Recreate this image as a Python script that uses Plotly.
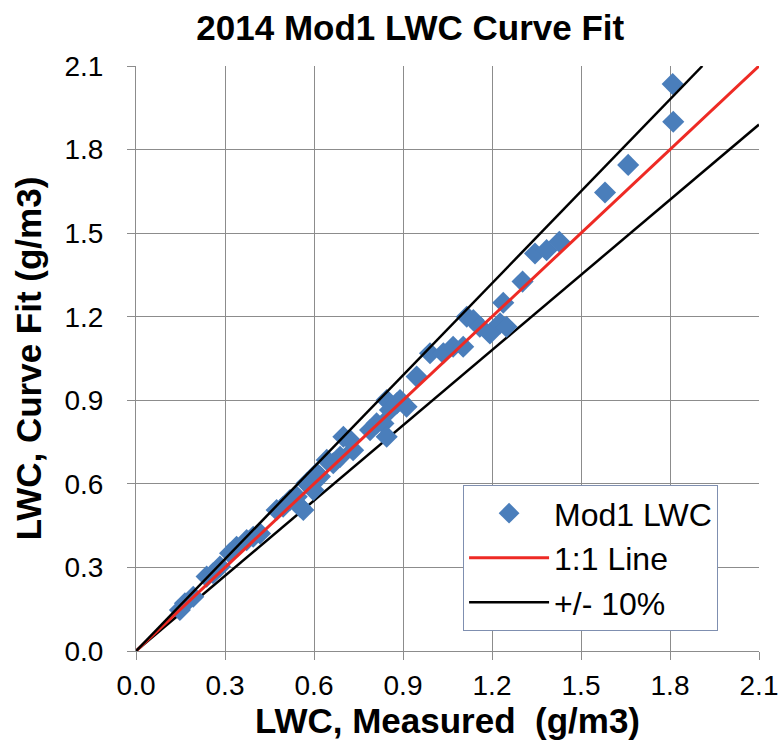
import plotly.graph_objects as go

measured = [0.148, 0.165, 0.193, 0.238, 0.260, 0.283, 0.317, 0.339, 0.373, 0.395, 0.418,
            0.474, 0.496, 0.519, 0.542, 0.553, 0.564, 0.575, 0.598, 0.609, 0.620, 0.643,
            0.665, 0.688, 0.699, 0.721, 0.732, 0.789, 0.811, 0.834, 0.845, 0.845, 0.856,
            0.879, 0.890, 0.912, 0.946, 0.991, 1.036, 1.069, 1.103, 1.115, 1.137, 1.159,
            1.193, 1.227, 1.238, 1.249, 1.303, 1.345, 1.384, 1.427, 1.581, 1.659, 1.811, 1.809]
curve_fit = [0.147, 0.171, 0.195, 0.267, 0.279, 0.303, 0.351, 0.374, 0.398, 0.410, 0.422,
             0.506, 0.518, 0.542, 0.554, 0.518, 0.506, 0.602, 0.578, 0.638, 0.626, 0.686,
             0.674, 0.697, 0.769, 0.757, 0.721, 0.793, 0.817, 0.817, 0.769, 0.901, 0.865,
             0.889, 0.901, 0.877, 0.985, 1.069, 1.069, 1.092, 1.092, 1.200, 1.188, 1.164,
             1.140, 1.176, 1.250, 1.164, 1.326, 1.427, 1.439, 1.469, 1.646, 1.745, 1.900, 2.035]

line_x = [0.0, 2.1]
one_to_one = [0.0, 2.1]
plus10_x = [0.0, 2.1 / 1.1]
plus10_y = [0.0, 2.1]
minus10_x = [0.0, 2.1]
minus10_y = [0.0, 2.1 * 0.9]

ticks = [0.0, 0.3, 0.6, 0.9, 1.2, 1.5, 1.8, 2.1]
tick_text = ["0.0", "0.3", "0.6", "0.9", "1.2", "1.5", "1.8", "2.1"]

FONT = "Arial, Liberation Sans, sans-serif"

fig = go.Figure()
fig.add_trace(go.Scatter(x=minus10_x, y=minus10_y, mode="lines",
                         line=dict(color="black", width=2.5), showlegend=False))
fig.add_trace(go.Scatter(x=measured, y=curve_fit, mode="markers", name="Mod1 LWC",
                         marker=dict(symbol="diamond", size=17, color="#4a7ebb",
                                     line=dict(width=0))))
fig.add_trace(go.Scatter(x=line_x, y=one_to_one, mode="lines", name="1:1 Line",
                         line=dict(color="#ee2a24", width=3)))
fig.add_trace(go.Scatter(x=plus10_x, y=plus10_y, mode="lines", name="+/- 10%",
                         line=dict(color="black", width=2.5)))

axis_common = dict(
    range=[0, 2.1], tickvals=ticks, ticktext=tick_text,
    showgrid=True, gridcolor="#8c8c8c", gridwidth=1,
    showline=True, linecolor="#8c8c8c", linewidth=1,
    ticks="outside", ticklen=8, tickcolor="#8c8c8c",
    zeroline=False, automargin=False,
    tickfont=dict(family=FONT, size=28, color="black"),
)

fig.update_layout(
    width=780, height=747,
    margin=dict(l=136, r=21, t=66, b=96),
    paper_bgcolor="white", plot_bgcolor="white",
    title=dict(text="<b>2014 Mod1 LWC Curve Fit</b>", x=0.526, xanchor="center",
               y=0.963, yanchor="middle",
               font=dict(family=FONT, size=35, color="black")),
    xaxis=dict(axis_common, ticklabelstandoff=1,
               title=dict(text="<b>LWC, Measured  (g/m3)</b>", standoff=6,
                          font=dict(family=FONT, size=35, color="black"))),
    yaxis=dict(axis_common, ticklabelstandoff=18,
               title=dict(text="<b>LWC, Curve Fit (g/m3)</b>", standoff=12,
                          font=dict(family=FONT, size=35, color="black"))),
    legend=dict(x=0.525, y=0.284, xanchor="left", yanchor="top",
                bgcolor="white", bordercolor="#7f8fb0", borderwidth=1,
                font=dict(family=FONT, size=32, color="black"),
                itemwidth=80, tracegroupgap=4),
    showlegend=True,
)

fig.write_html("out.html")
